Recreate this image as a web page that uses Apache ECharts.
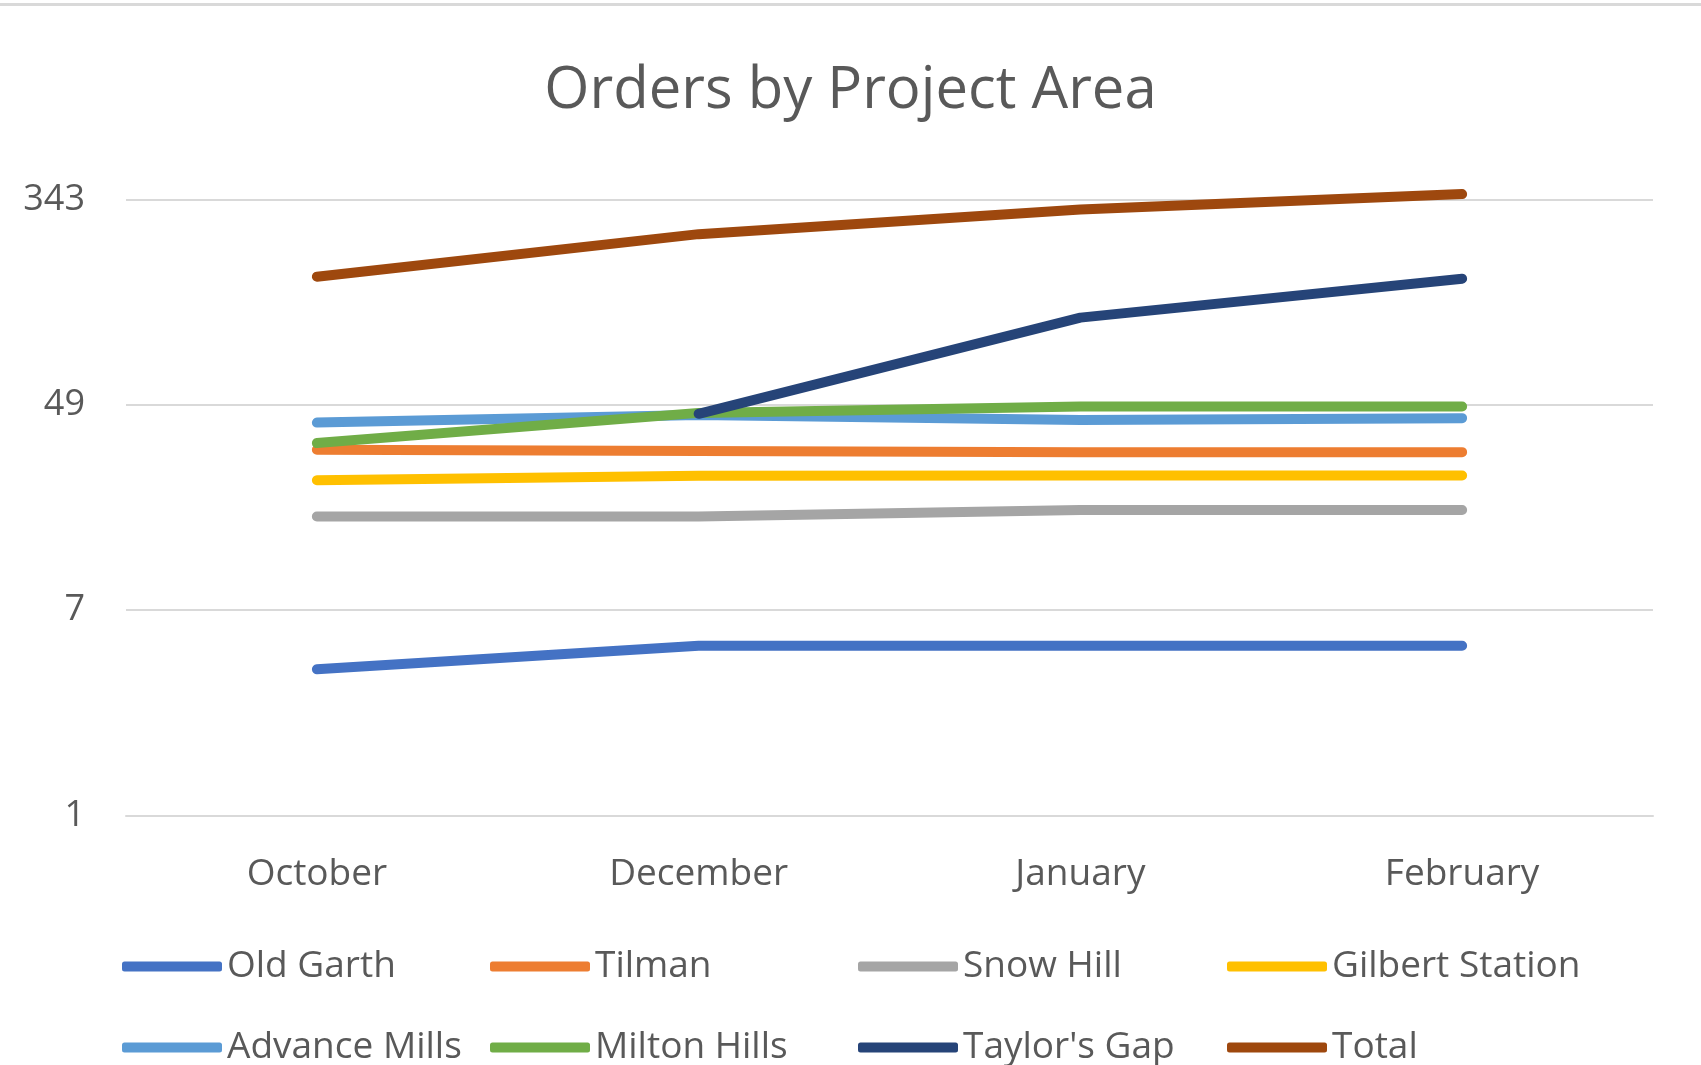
<!DOCTYPE html>
<html>
<head>
<meta charset="utf-8">
<script src="https://cdn.jsdelivr.net/npm/echarts@6/dist/echarts.min.js"></script>
<style>
  html, body { margin: 0; padding: 0; background: #fff; }
  #chart { width: 1701px; height: 1065px; }
</style>
</head>
<body>
<div id="chart"></div>
<script>
// months on the x axis
const months = ['October', 'December', 'January', 'February']

// orders per project area
const oldGarth = [4, 5, 5, 5]
const tilman = [32, 31.6, 31.3, 31.3]
const snowHill = [17, 17, 18.1, 18.1]
const gilbertStation = [24, 25, 25.1, 25.1]
const advanceMills = [41.4, 44.5, 42.4, 43.2]
const miltonHills = [34.1, 45.4, 48.2, 48.2]
const taylorsGap = [null, 45, 112, 162]
const total = [165, 247, 312, 361]

const yTicks = [1, 7, 49, 343]

const seriesList = [
  { name: 'Old Garth', data: oldGarth, color: '#4472C4' },
  { name: 'Tilman', data: tilman, color: '#ED7D31' },
  { name: 'Snow Hill', data: snowHill, color: '#A5A5A5' },
  { name: 'Gilbert Station', data: gilbertStation, color: '#FFC000' },
  { name: 'Advance Mills', data: advanceMills, color: '#5B9BD5' },
  { name: 'Milton Hills', data: miltonHills, color: '#70AD47' },
  { name: "Taylor's Gap", data: taylorsGap, color: '#264478' },
  { name: 'Total', data: total, color: '#9E480E' }
]

const font = '"Open Sans", "Noto Sans", sans-serif'
const textColor = '#595959'

// one legend per entry so the columns line up like the original
const legendCols = [122, 490, 858, 1227]
const legendRows = [948, 1029]
const legends = seriesList.map((s, i) => ({
  left: legendCols[i % 4],
  top: legendRows[Math.floor(i / 4)],
  padding: 0,
  icon: 'roundRect',
  itemWidth: 100,
  itemHeight: 10,
  textStyle: { fontFamily: font, fontSize: 37, color: textColor },
  data: [s.name]
}))

let chart = echarts.init(document.getElementById('chart'))
chart.setOption({
  backgroundColor: '#fff',
  animation: false,
  title: {
    text: 'Orders by Project Area',
    left: 'center',
    top: 57,
    textStyle: { fontFamily: font, fontSize: 58, fontWeight: 'normal', color: textColor }
  },
  graphic: [{
    type: 'rect',
    shape: { x: 0, y: 3, width: 1701, height: 3 },
    style: { fill: '#d9d9d9' }
  }],
  legend: legends,
  grid: { left: 126, right: 48, top: 199.5, bottom: 249.5, containLabel: false },
  xAxis: {
    type: 'category',
    data: months,
    boundaryGap: true,
    axisLine: { show: true, lineStyle: { color: '#d9d9d9', width: 2 } },
    axisTick: { show: false },
    axisLabel: { fontFamily: font, fontSize: 37, color: textColor, margin: 40 }
  },
  yAxis: {
    type: 'log',
    logBase: 7,
    min: yTicks[0],
    max: yTicks[yTicks.length - 1],
    splitNumber: 3,
    axisLine: { show: false },
    axisTick: { show: false },
    axisLabel: {
      fontFamily: font, fontSize: 36, color: textColor, margin: 41,
      formatter: v => String(Math.round(v))
    },
    splitLine: { lineStyle: { color: '#d9d9d9', width: 2 } }
  },
  series: seriesList.map(s => ({
    name: s.name,
    type: 'line',
    data: s.data,
    showSymbol: false,
    symbol: 'none',
    clip: false,
    connectNulls: false,
    color: s.color,
    lineStyle: { width: 10, color: s.color, cap: 'round', join: 'round' },
    itemStyle: { color: s.color }
  }))
})
</script>
</body>
</html>
